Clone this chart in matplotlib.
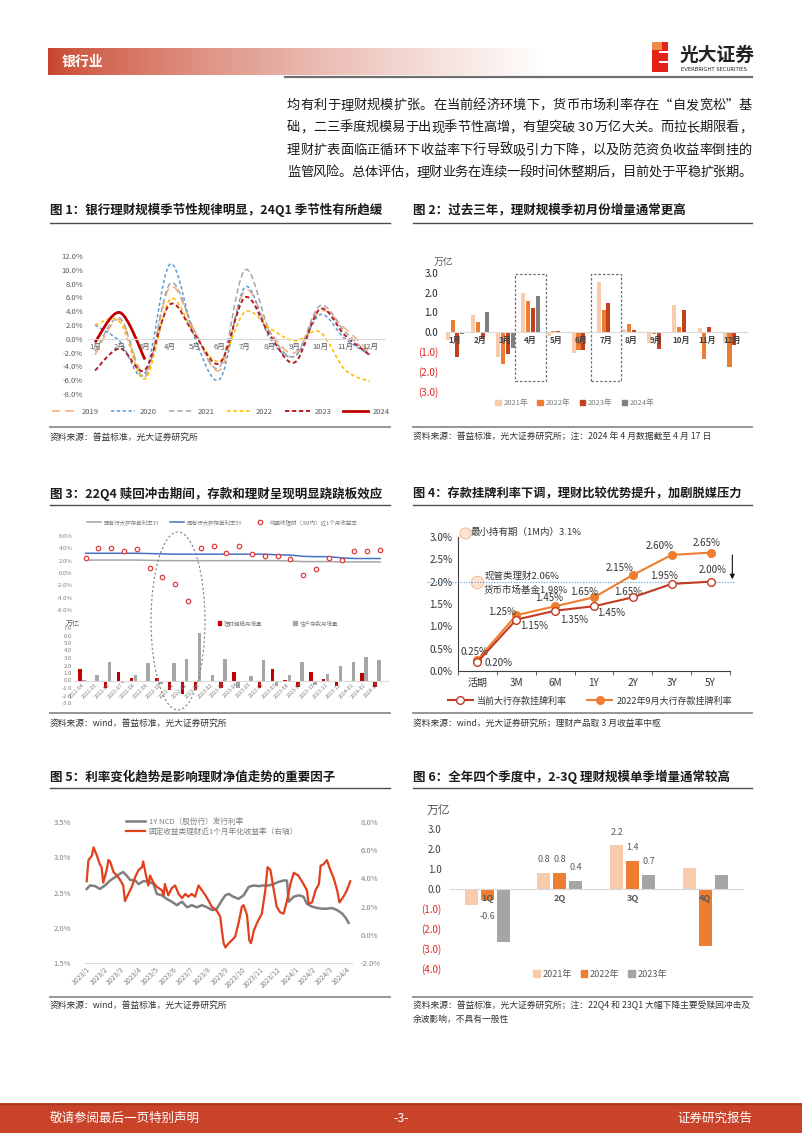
import numpy as np
import pandas as pd
import matplotlib
matplotlib.use("Agg")
import matplotlib.pyplot as plt
from matplotlib.path import Path
from matplotlib.patches import PathPatch, Rectangle, Ellipse, Patch
from matplotlib.lines import Line2D
from matplotlib.font_manager import FontProperties

plt.rcParams['font.family'] = ['Noto Sans CJK SC', 'DejaVu Sans']
plt.rcParams['axes.unicode_minus'] = False

# ======================= DATA =======================
# Chart 1: monthly change of WM scale (%)
c1_months = ['1月', '2月', '3月', '4月', '5月', '6月', '7月', '8月', '9月', '10月', '11月', '12月']
c1_labels = ['2019', '2020', '2021', '2022', '2023', '2024']
c1_2019 = [-2.3, 2.8, -5.0, 7.5, 1.0, -4.5, 7.0, 1.0, -2.0, 4.0, 1.5, -2.0]
c1_2020 = [2.0, -0.4, -5.0, 10.8, 0.0, -5.8, 7.5, 0.0, -2.5, 3.5, 0.0, -2.3]
c1_2021 = [-1.8, 3.0, -5.5, 8.0, 1.0, -4.0, 10.0, 1.0, -2.5, 4.8, 1.0, -2.3]
c1_2022 = [2.0, 2.4, -5.8, 5.7, 0.5, -3.2, 3.9, 1.5, -0.3, 1.0, -4.5, -6.2]
c1_2023 = [-4.6, -1.4, -4.5, 5.0, 0.5, -3.5, 6.0, 0.5, -3.4, 4.3, 0.5, -2.4]
c1_2024 = [-0.5, 3.8, -3.0]

# Chart 2: monthly increment (trillion)
c2_months = c1_months
c2_labels = ['2021年', '2022年', '2023年', '2024年']
c2_2021 = [-0.4, 0.85, -1.25, 2.0, -0.2, -1.05, 2.55, 0.15, -0.55, 1.35, 0.2, -0.5]
c2_2022 = [0.6, 0.5, -1.65, 1.6, 0.05, -0.9, 1.1, 0.4, -0.1, 0.25, -1.35, -1.8]
c2_2023 = [-1.25, -0.3, -1.1, 1.2, 0.05, -0.9, 1.5, 0.1, -0.85, 1.1, 0.25, -0.65]
c2_2024 = [-0.1, 1.0, -0.8, 1.85]
c2_highlight = [4, 7]

# Chart 3
c3_months = ['2022-04', '2022-05', '2022-06', '2022-07', '2022-08', '2022-09', '2022-10',
             '2022-11', '2022-12', '2023-01', '2023-02', '2023-03', '2023-04', '2023-05',
             '2023-06', '2023-07', '2023-08', '2023-09', '2023-10', '2023-11', '2023-12',
             '2024-01', '2024-02', '2024-03']
c3_line_labels = ['国有行大额存单利率3Y', '国有行大额存单利率5Y', '纯固收理财（3M内）近1个月收益率']
c3_cd3y = [2.1, 2.1, 2.1, 2.1, 2.1, 2.05, 2.0, 2.0, 2.0, 2.0, 2.0, 2.0, 2.0, 2.0, 2.0, 2.0,
           1.95, 1.85, 1.85, 1.85, 1.8, 1.8, 1.8, 1.8]
c3_cd5y = [3.2, 3.2, 3.2, 3.2, 3.2, 3.15, 3.1, 3.05, 3.05, 3.05, 3.05, 3.05, 3.05, 3.05, 3.05,
           2.95, 2.9, 2.7, 2.65, 2.65, 2.45, 2.35, 2.35, 2.35]
c3_wm_yield = [2.4, 4.0, 4.0, 3.5, 3.9, 0.8, -0.7, -1.8, -4.6, 4.0, 4.3, 3.2, 4.3, 3.1, 2.7,
               2.8, 2.2, -0.3, 0.6, 2.5, 2.1, 3.6, 3.5, 3.8]
c3_bar_labels = ['理财规模月增量', '住户存款月增量']
c3_wm_chg = [1.6, 0.0, -1.0, 1.1, 0.4, -0.05, 0.3, -1.3, -1.8, -1.2, -0.2, -1.0, 1.2, 0.0,
             -1.0, 1.5, 0.1, -0.9, 1.1, 0.2, -0.7, -0.1, 1.0, -0.8]
c3_dep_chg = [0.1, 0.8, 2.5, -0.3, 0.8, 2.4, -0.4, 2.3, 2.9, 6.3, 0.8, 2.9, -1.0, 0.6, 2.7,
              -0.7, 0.8, 2.5, -0.6, 0.9, 2.0, 2.5, 3.2, 2.8]

# Chart 4
c4_terms = ['活期', '3M', '6M', '1Y', '2Y', '3Y', '5Y']
c4_labels = ['当前大行存款挂牌利率', '2022年9月大行存款挂牌利率']
c4_now = [0.20, 1.15, 1.35, 1.45, 1.65, 1.95, 2.00]
c4_sep22 = [0.25, 1.25, 1.45, 1.65, 2.15, 2.60, 2.65]
c4_minhold = 3.1
c4_cash = 2.06
c4_mmf = 1.98

# Chart 5 (x = days since 2023-01-01)
c5_labels = ['1Y NCD（股份行）发行利率', '固定收益类理财近1个月年化收益率（右轴）']
c5_ncd_days = [0, 6, 15, 23, 32, 41, 50, 59, 64, 70, 76, 85, 91, 99, 108, 117, 123, 132, 140,
               149, 158, 167, 176, 184, 193, 202, 211, 220, 228, 237, 243, 249, 257, 266, 275,
               284, 293, 301, 310, 319, 328, 336, 345, 351, 354, 363, 372, 380, 386, 395, 404,
               413, 421, 430, 439, 448, 454, 459]
c5_ncd = [2.55, 2.60, 2.59, 2.55, 2.60, 2.67, 2.72, 2.77, 2.79, 2.74, 2.68, 2.67, 2.62, 2.66,
          2.66, 2.62, 2.48, 2.46, 2.41, 2.37, 2.32, 2.37, 2.29, 2.32, 2.29, 2.32, 2.29, 2.25,
          2.27, 2.39, 2.46, 2.48, 2.44, 2.41, 2.46, 2.58, 2.60, 2.59, 2.60, 2.60, 2.62, 2.65,
          2.67, 2.67, 2.37, 2.44, 2.46, 2.44, 2.34, 2.30, 2.28, 2.27, 2.27, 2.28, 2.25, 2.20,
          2.14, 2.07]
c5_wm_days = [0, 3, 9, 12, 18, 23, 26, 29, 35, 38, 41, 47, 53, 59, 64, 67, 73, 79, 85, 91, 97,
              99, 102, 105, 108, 111, 117, 123, 132, 135, 137, 143, 149, 155, 161, 167, 173,
              178, 184, 190, 196, 202, 208, 214, 219, 228, 234, 237, 240, 243, 249, 254, 260,
              266, 272, 275, 281, 285, 288, 293, 298, 307, 313, 317, 322, 328, 333, 339, 345,
              351, 357, 363, 371, 380, 386, 389, 395, 401, 407, 410, 415, 421, 427, 433, 439,
              443, 450, 456, 462]
c5_wm = [3.8, 5.3, 5.6, 6.2, 5.6, 5.0, 4.8, 3.7, 4.6, 5.3, 5.2, 4.45, 4.2, 3.86, 3.5, 2.4, 2.9,
         3.4, 4.1, 4.6, 4.8, 5.2, 4.6, 4.0, 3.5, 4.2, 3.7, 3.4, 3.15, 2.8, 3.6, 2.8, 3.3, 3.5,
         2.9, 2.6, 2.9, 2.7, 2.9, 2.7, 3.5, 3.15, 2.8, 2.4, 2.0, 1.7, 1.3, 0.3, -0.6, -0.9,
         -0.6, -0.4, -0.15, 0.8, 2.0, 2.1, 1.4, -0.4, -0.6, 0.3, 0.8, 1.5, 3.15, 4.8, 4.6,
         3.15, 2.0, 1.6, 1.5, 2.4, 3.6, 4.4, 4.2, 3.6, 3.15, 2.2, 2.3, 3.15, 3.6, 4.9, 5.0,
         5.3, 4.6, 4.0, 3.15, 2.3, 2.7, 3.15, 3.8]

# Chart 6
c6_quarters = ['1Q', '2Q', '3Q', '4Q']
c6_labels = ['2021年', '2022年', '2023年']
c6_2021 = [-0.85, 0.8, 2.2, 1.05]
c6_2022 = [-0.6, 0.8, 1.4, -2.9]
c6_2023 = [-2.7, 0.4, 0.7, 0.7]

# ======================= LAYOUT HELPERS =======================
W, H = 802, 1133
fig = plt.figure(figsize=(W / 100, H / 100), dpi=100)
fig.patch.set_facecolor('white')


def add_ax(x0, y0, x1, y1):
    return fig.add_axes([x0 / W, 1 - y1 / H, (x1 - x0) / W, (y1 - y0) / H])


def ftext(x, y, s, **kw):
    kw.setdefault('va', 'center')
    return fig.text(x / W, 1 - y / H, s, **kw)


def hline(x0, x1, y, color, lw):
    fig.add_artist(Line2D([x0 / W, x1 / W], [1 - y / H, 1 - y / H], color=color, lw=lw))


def fig_legend(ax, handles, labels, x, y, **kw):
    return ax.legend(handles, labels, loc='center', bbox_to_anchor=(x / W, 1 - y / H),
                     bbox_transform=fig.transFigure, frameon=False, **kw)


def paren(v):
    return f"({abs(v):.1f})" if v < 0 else f"{v:.1f}"


def smooth_path(xs, ys):
    pts = np.column_stack([xs, ys]).astype(float)
    n = len(pts)
    verts = [pts[0]]
    codes = [Path.MOVETO]
    for i in range(n - 1):
        p0 = pts[i - 1] if i > 0 else pts[i]
        p1, p2 = pts[i], pts[i + 1]
        p3 = pts[i + 2] if i + 2 < n else pts[i + 1]
        verts += [p1 + (p2 - p0) / 6.0, p2 - (p3 - p1) / 6.0, p2]
        codes += [Path.CURVE4] * 3
    return Path(verts, codes)


def clean(ax):
    for s in ax.spines.values():
        s.set_visible(False)


def justified_line(x0, x1, y, s, size, color):
    """Draw a line of text justified between x0 and x1 (pixels); y = text center."""
    renderer = fig.canvas.get_renderer()
    fp = FontProperties(family=['Noto Sans CJK SC'], size=size)
    chars = list(s)
    widths = []
    for ch in chars:
        if ch == ' ':
            w = renderer.get_text_width_height_descent('a a', fp, ismath=False)[0] - \
                renderer.get_text_width_height_descent('aa', fp, ismath=False)[0]
        else:
            w = renderer.get_text_width_height_descent(ch, fp, ismath=False)[0]
        widths.append(w)
    total = sum(widths)
    gap = (x1 - x0 - total) / max(len(chars) - 1, 1)
    gap = max(gap, -1.5)
    baseline = y + size * 1.389 * 0.36
    xc = x0
    for ch, w in zip(chars, widths):
        if ch != ' ':
            fig.text(xc / W, 1 - baseline / H, ch, fontsize=size, color=color,
                     va='baseline', ha='left', family=['Noto Sans CJK SC', 'DejaVu Sans'])
        xc += w + gap


TITLE_C = '#1a1a1a'
SRC_C = '#333333'

# ======================= HEADER =======================
gax = add_ax(48, 48, 545, 75)
t = np.linspace(0, 1, 400) ** 0.75
start = np.array([0.78, 0.27, 0.17])
img = start[None, :] * (1 - t[:, None]) + np.ones(3)[None, :] * t[:, None]
gax.imshow(img[None, :, :], aspect='auto')
gax.axis('off')
ftext(62, 61.5, '银行业', fontsize=10, fontweight='bold', color='white')
hline(285, 752, 76.5, '#6e6e6e', 1.6)

fig.add_artist(Rectangle((652 / W, 1 - 72 / H), 16 / W, 30 / H, transform=fig.transFigure,
                         color='#e2231a', lw=0))
fig.add_artist(Rectangle((652 / W, 1 - 50 / H), 10 / W, 8 / H, transform=fig.transFigure,
                         color='#f08a4b', lw=0))
for yy in (51, 61):
    fig.add_artist(Rectangle((659 / W, 1 - (yy + 2) / H), 9 / W, 2 / H,
                             transform=fig.transFigure, color='white', lw=0))
ftext(680, 55, '光大证券', fontsize=13.5, fontweight='bold', color='#222222')
ftext(681, 69.5, 'EVERBRIGHT SECURITIES', fontsize=3.8, color='#222222',
      family=['DejaVu Sans'])

para = ['均有利于理财规模扩张。在当前经济环境下，货币市场利率存在“自发宽松”基',
        '础，二三季度规模易于出现季节性高增，有望突破 30 万亿大关。而拉长期限看，',
        '理财扩表面临正循环下收益率下行导致吸引力下降，以及防范资负收益率倒挂的',
        '监管风险。总体评估，理财业务在连续一段时间休整期后，目前处于平稳扩张期。']
for i, line in enumerate(para):
    justified_line(287, 752, 104 + i * 22.4, line, 9.5, '#1a1a1a')

# ======================= TITLES / SOURCES =======================
ftext(50, 210, '图 1：银行理财规模季节性规律明显，24Q1 季节性有所趋缓', fontsize=9.0,
      fontweight='bold', color=TITLE_C)
ftext(413, 210, '图 2：过去三年，理财规模季初月份增量通常更高', fontsize=9.0,
      fontweight='bold', color=TITLE_C)
ftext(50, 494, '图 3：22Q4 赎回冲击期间，存款和理财呈现明显跷跷板效应', fontsize=9.0,
      fontweight='bold', color=TITLE_C)
ftext(413, 494, '图 4：存款挂牌利率下调，理财比较优势提升，加剧脱媒压力', fontsize=8.8,
      fontweight='bold', color=TITLE_C)
ftext(50, 777, '图 5：利率变化趋势是影响理财净值走势的重要因子', fontsize=9.0,
      fontweight='bold', color=TITLE_C)
ftext(413, 777, '图 6：全年四个季度中，2-3Q 理财规模单季增量通常较高', fontsize=9.0,
      fontweight='bold', color=TITLE_C)
for y in (223, 505, 788):
    hline(50, 390, y, '#4d4d4d', 1.0)
    hline(413, 752, y, '#4d4d4d', 1.0)
for y in (427, 713, 997):
    hline(50, 390, y, '#8c8c8c', 1.3)
    hline(413, 752, y, '#8c8c8c', 1.3)

ftext(50, 437, '资料来源：普益标准，光大证券研究所', fontsize=6.3, color=SRC_C)
ftext(413, 437, '资料来源：普益标准，光大证券研究所；注：2024 年 4 月数据截至 4 月 17 日',
      fontsize=6.3, color=SRC_C)
ftext(50, 723, '资料来源：wind，普益标准，光大证券研究所', fontsize=6.3, color=SRC_C)
ftext(413, 723, '资料来源：wind，光大证券研究所；理财产品取 3 月收益率中枢', fontsize=6.3,
      color=SRC_C)
ftext(50, 1005, '资料来源：wind，普益标准，光大证券研究所', fontsize=6.3, color=SRC_C)
ftext(413, 1005, '资料来源：普益标准，光大证券研究所；注：22Q4 和 23Q1 大幅下降主要受赎回冲击及',
      fontsize=6.3, color=SRC_C)
ftext(413, 1019, '余波影响，不具有一般性', fontsize=6.3, color=SRC_C)

# ======================= CHART 1 =======================
ax1 = add_ax(88, 256, 385, 394)
clean(ax1)
x1 = np.arange(1, 13)
c1_series = [c1_2019, c1_2020, c1_2021, c1_2022, c1_2023, c1_2024]
c1_colors = ['#f4b183', '#5b9bd5', '#a5a5a5', '#ffc000', '#b81d24', '#c00000']
c1_styles = [(0, (5, 3)), (0, (2.2, 1.6)), (0, (3.5, 2)), (0, (2.2, 1.6)), (0, (2.2, 1.4)), '-']
c1_widths = [1.2, 1.1, 1.1, 1.2, 1.4, 2.0]
handles = []
for vals, col, ls, lw in zip(c1_series, c1_colors, c1_styles, c1_widths):
    xs = x1[:len(vals)]
    ax1.add_patch(PathPatch(smooth_path(xs, vals), fill=False, edgecolor=col, lw=lw,
                            linestyle=ls, capstyle='butt'))
    handles.append(Line2D([], [], color=col, lw=lw, linestyle=ls))
ax1.set_xlim(0.72, 12.6)
ax1.set_ylim(-8, 12)
ax1.set_yticks(np.arange(-8, 13, 2))
ax1.set_yticklabels([f"{v:.1f}%" for v in np.arange(-8, 13, 2)])
ax1.spines['bottom'].set_visible(True)
ax1.spines['bottom'].set_position(('data', 0))
ax1.spines['bottom'].set_color('#d9d9d9')
ax1.set_xticks(x1)
ax1.set_xticklabels(c1_months)
ax1.tick_params(axis='both', length=0, labelsize=5.5, colors='#595959')
ax1.tick_params(axis='x', pad=3)
fig_legend(ax1, handles, c1_labels, 221, 412, ncol=6, fontsize=5.5, handlelength=3.2,
           columnspacing=1.6, handletextpad=0.6, labelcolor='#595959')

# ======================= CHART 2 =======================
ax2 = add_ax(445, 273, 747, 391)
clean(ax2)
c2_series = [c2_2021, c2_2022, c2_2023, c2_2024]
c2_colors = ['#f8cbad', '#ed7d31', '#c5401f', '#7f7f7f']
x2 = np.arange(1, 13)
for k, (vals, col) in enumerate(zip(c2_series, c2_colors)):
    ax2.bar(x2[:len(vals)] + (k - 1.5) * 0.19, vals, width=0.16, color=col, lw=0)
for m in c2_highlight:
    ax2.add_patch(Rectangle((m - 0.6, -2.5), 1.2, 5.45, fill=False, edgecolor='#6e6e6e',
                            lw=0.9, linestyle=(0, (2, 1.5))))
ax2.set_xlim(0.6, 12.6)
ax2.set_ylim(-3, 3)
yt = np.arange(-3, 3.1, 1.0)
ax2.set_yticks(yt)
ax2.set_yticklabels([paren(v) for v in yt])
for lab, v in zip(ax2.get_yticklabels(), yt):
    lab.set_color('#e02424' if v < 0 else '#262626')
ax2.tick_params(axis='y', length=0, labelsize=7, pad=5)
ax2.spines['bottom'].set_visible(True)
ax2.spines['bottom'].set_position(('data', 0))
ax2.spines['bottom'].set_color('#d9d9d9')
ax2.set_xticks(x2)
ax2.set_xticklabels(c2_months, fontweight='bold')
ax2.tick_params(axis='x', length=0, labelsize=5.8, colors='#404040', pad=3)
ftext(434, 263, '万亿', fontsize=7, color='#595959')
fig_legend(ax2, [Patch(color=c) for c in c2_colors], c2_labels, 575, 403, ncol=4,
           fontsize=5.5, handlelength=0.7, handleheight=0.7, columnspacing=1.2,
           handletextpad=0.4, labelcolor='#7f7f7f')

# ======================= CHART 3 =======================
x3 = np.arange(len(c3_months))
ax3a = add_ax(75, 536, 388, 610)
clean(ax3a)
l1, = ax3a.plot(x3, c3_cd3y, color='#a6a6a6', lw=1.1)
l2, = ax3a.plot(x3, c3_cd5y, color='#4472c4', lw=1.1)
s1, = ax3a.plot(x3, c3_wm_yield, ls='none', marker='o', ms=3.2, mfc='white', mec='#e03c3c',
                mew=0.9)
ax3a.set_xlim(-0.83, 23.62)
ax3a.set_ylim(-6, 6)
ax3a.set_xticks([])
yt = np.arange(-6, 6.1, 2)
ax3a.set_yticks(yt)
ax3a.set_yticklabels([f"{v:.1f}%" for v in yt])
ax3a.tick_params(axis='y', length=0, labelsize=4.3, colors='#7f7f7f', pad=2)
fig_legend(ax3a, [l1, l2, s1], c3_line_labels, 222, 522, ncol=3, fontsize=4.0,
           handlelength=2.6, columnspacing=1.8, handletextpad=0.5, labelcolor='#7f7f7f')

ax3b = add_ax(75, 628, 388, 703)
clean(ax3b)
ax3b.bar(x3 - 0.16, c3_wm_chg, width=0.27, color='#c00000', lw=0)
ax3b.bar(x3 + 0.16, c3_dep_chg, width=0.27, color='#a6a6a6', lw=0)
ax3b.set_xlim(-0.55, 23.86)
ax3b.set_ylim(-3, 7)
yt = np.arange(-3, 7.1, 1)
ax3b.set_yticks(yt)
ax3b.set_yticklabels([f"{v:.1f}" for v in yt])
ax3b.tick_params(axis='y', length=0, labelsize=4.3, colors='#7f7f7f', pad=2)
ax3b.spines['bottom'].set_visible(True)
ax3b.spines['bottom'].set_position(('data', 0))
ax3b.spines['bottom'].set_color('#d9d9d9')
ax3b.set_xticks(x3)
ax3b.set_xticklabels(c3_months, rotation=45, ha='right', rotation_mode='anchor')
ax3b.tick_params(axis='x', length=0, labelsize=3.8, colors='#7f7f7f', pad=1)
ftext(66, 624, '万亿', fontsize=5, color='#595959')
fig_legend(ax3b, [Patch(color='#c00000'), Patch(color='#a6a6a6')], c3_bar_labels, 278, 623,
           ncol=2, fontsize=4.0, handlelength=0.6, handleheight=0.6, columnspacing=5.5,
           handletextpad=0.5, labelcolor='#7f7f7f')
fig.add_artist(Ellipse((178 / W, 1 - 621 / H), 54 / W, 178 / H, transform=fig.transFigure,
                       fill=False, edgecolor='#7f7f7f', lw=0.8, linestyle=(0, (2, 2))))

# ======================= CHART 4 =======================
ax4 = add_ax(458, 537, 730, 671)
x4 = np.arange(len(c4_terms))
for s in ('top', 'right'):
    ax4.spines[s].set_visible(False)
for s in ('left', 'bottom'):
    ax4.spines[s].set_color('#404040')
    ax4.spines[s].set_linewidth(0.8)
ax4.axhline(2.0, xmin=-0.115, xmax=1.02, clip_on=False, color='#5b9bd5', lw=0.8, ls=(0, (1, 1.5)))
ln_now, = ax4.plot(x4, c4_now, color='#c23b22', lw=1.5, marker='o', ms=5.5, mfc='white',
                   mec='#c23b22', mew=1.0, zorder=4)
ln_old, = ax4.plot(x4, c4_sep22, color='#ed7d31', lw=1.5, marker='o', ms=5.5, mfc='#ed7d31',
                   mec='#ed7d31', zorder=3)
old_off = [(-3, 8), (-14, 3), (-6, 8), (-10, 5), (-13, 7), (-12, 9), (-4, 10)]
now_off = [(21, -1), (18, -6), (19, -9), (17, -7), (-5, 5), (-8, 8), (2, 12)]
for i in range(len(x4)):
    ax4.annotate(f"{c4_sep22[i]:.2f}%", (x4[i], c4_sep22[i]),
                 xytext=(old_off[i][0] * 0.72, old_off[i][1] * 0.72), textcoords='offset points',
                 ha='center', va='center', fontsize=7, color='#333333', annotation_clip=False)
    ax4.annotate(f"{c4_now[i]:.2f}%", (x4[i], c4_now[i]),
                 xytext=(now_off[i][0] * 0.72, now_off[i][1] * 0.72), textcoords='offset points',
                 ha='center', va='center', fontsize=7, color='#333333', annotation_clip=False)
ax4.set_xlim(-0.46, 6.48)
ax4.set_ylim(0, 3.0)
yt = np.arange(0, 3.01, 0.5)
ax4.set_yticks(yt)
ax4.set_yticklabels([f"{v:.1f}%" for v in yt])
ax4.set_xticks(x4)
ax4.set_xticklabels(c4_terms)
ax4.set_xticks(np.arange(-0.5, 6.6, 1), minor=True)
ax4.tick_params(axis='both', which='major', length=0, labelsize=7.2, colors='#333333')
ax4.tick_params(axis='x', which='minor', length=3, color='#404040')
ax4.tick_params(axis='x', pad=5)
ax4.tick_params(axis='y', pad=4)
ax4.plot([-0.32], [c4_minhold], marker='o', ms=8, mfc='#fbe3d6', mec='#f4b183', mew=0.6,
         ls='none', clip_on=False)
ax4.text(-0.18, c4_minhold, f"最小持有期（1M内）{c4_minhold:.1f}%", fontsize=6.8,
         color='#333333', va='center', ha='left', clip_on=False)
ax4.plot([0.0], [c4_cash - 0.07], marker='o', ms=9, mfc='#fbe3d6', mec='#f4b183', mew=0.6,
         ls='none', clip_on=False, zorder=1)
ax4.text(0.18, c4_cash + 0.06, f"现管类理财{c4_cash:.2f}%", fontsize=6.8, color='#333333',
         va='center', ha='left')
ax4.text(0.15, c4_mmf - 0.18, f"货币市场基金{c4_mmf:.2f}%", fontsize=6.8, color='#333333',
         va='center', ha='left')
ax4.annotate('', xy=(6.56, 1.99), xytext=(6.56, 2.66),
             arrowprops=dict(arrowstyle='-|>', color='#111111', lw=0.8, mutation_scale=7),
             annotation_clip=False)
fig_legend(ax4, [ln_now, ln_old], c4_labels, 590, 701, ncol=2, fontsize=6.5,
           handlelength=2.8, columnspacing=2.2, handletextpad=0.5, labelcolor='#333333')

# ======================= CHART 5 =======================
base = pd.Timestamp('2023-01-01')
ncd_dates = base + pd.to_timedelta(c5_ncd_days, unit='D')
wm_dates = base + pd.to_timedelta(c5_wm_days, unit='D')
ax5 = add_ax(85, 822, 352, 963)
ax5r = ax5.twinx()
for a in (ax5, ax5r):
    clean(a)
ax5.spines['bottom'].set_visible(True)
ax5.spines['bottom'].set_color('#d9d9d9')
g_line, = ax5.plot(ncd_dates, c5_ncd, color='#7f7f7f', lw=1.8)
r_line, = ax5r.plot(wm_dates, c5_wm, color='#e0401c', lw=1.6)
ax5.set_ylim(1.5, 3.5)
ax5r.set_ylim(-2, 8)
ax5.set_xlim(base - pd.Timedelta(days=3), base + pd.Timedelta(days=465))
yt = np.arange(1.5, 3.51, 0.5)
ax5.set_yticks(yt)
ax5.set_yticklabels([f"{v:.1f}%" for v in yt])
yr = np.arange(-2, 8.1, 2)
ax5r.set_yticks(yr)
ax5r.set_yticklabels([f"{v:.1f}%" for v in yr])
mticks = pd.date_range('2023-01-01', periods=16, freq='MS')
ax5.set_xticks(mticks)
ax5.set_xticklabels([f"{d.year}/{d.month}" for d in mticks], rotation=45, ha='right',
                    rotation_mode='anchor')
ax5.tick_params(axis='x', length=0, labelsize=5, colors='#7f7f7f', pad=2)
ax5.tick_params(axis='y', length=0, labelsize=5.5, colors='#7f7f7f', pad=10)
ax5r.tick_params(axis='y', length=0, labelsize=5.5, colors='#7f7f7f', pad=6)
fig_legend(ax5r, [g_line, r_line], c5_labels, 212, 827, ncol=1, fontsize=5.5,
           handlelength=2.4, handletextpad=0.5, labelspacing=0.25, labelcolor='#7f7f7f')

# ======================= CHART 6 =======================
ax6 = add_ax(450, 829, 743, 968)
clean(ax6)
x6 = np.arange(len(c6_quarters))
c6_series = [c6_2021, c6_2022, c6_2023]
c6_colors = ['#f8cbad', '#ed7d31', '#a5a5a5']
for k, (vals, col) in enumerate(zip(c6_series, c6_colors)):
    ax6.bar(x6 + (k - 1) * 0.22, vals, width=0.18, color=col, lw=0)
for k, vals in enumerate(c6_series):
    for i, v in enumerate(vals):
        if i in (1, 2) or (i == 0 and k == 1):
            dy = 6 if v >= 0 else -8
            ax6.annotate(f"{v:.1f}", (x6[i] + (k - 1) * 0.22, v), xytext=(0, dy),
                         textcoords='offset points', ha='center',
                         va='bottom' if v >= 0 else 'top', fontsize=6.5, color='#595959')
ax6.set_xlim(-0.51, 3.52)
ax6.set_ylim(-4, 3)
yt = np.arange(-4, 3.1, 1.0)
ax6.set_yticks(yt)
ax6.set_yticklabels([paren(v) for v in yt])
for lab, v in zip(ax6.get_yticklabels(), yt):
    lab.set_color('#e02424' if v < 0 else '#404040')
ax6.tick_params(axis='y', length=0, labelsize=7, pad=6)
ax6.spines['bottom'].set_visible(True)
ax6.spines['bottom'].set_position(('data', 0))
ax6.spines['bottom'].set_color('#d9d9d9')
ax6.set_xticks(x6)
ax6.set_xticklabels(c6_quarters, fontweight='bold')
ax6.tick_params(axis='x', length=0, labelsize=6.5, colors='#595959', pad=4)
ftext(427, 810, '万亿', fontsize=8.5, color='#595959')
fig_legend(ax6, [Patch(color=c) for c in c6_colors], c6_labels, 600, 974, ncol=3,
           fontsize=6.5, handlelength=0.7, handleheight=0.7, columnspacing=1.0,
           handletextpad=0.3, labelcolor='#595959')

# ======================= FOOTER =======================
fig.add_artist(Rectangle((0, 0), 1, 30 / H, transform=fig.transFigure, color='#c8432a', lw=0))
hline(0, 802, 1103.5, '#a8361f', 1.0)
ftext(50, 1118, '敬请参阅最后一页特别声明', fontsize=9, color='white')
ftext(401, 1118, '-3-', fontsize=9, color='white', ha='center')
ftext(752, 1118, '证券研究报告', fontsize=9, color='white', ha='right')

fig.savefig('out.png', dpi=100, facecolor='white')
